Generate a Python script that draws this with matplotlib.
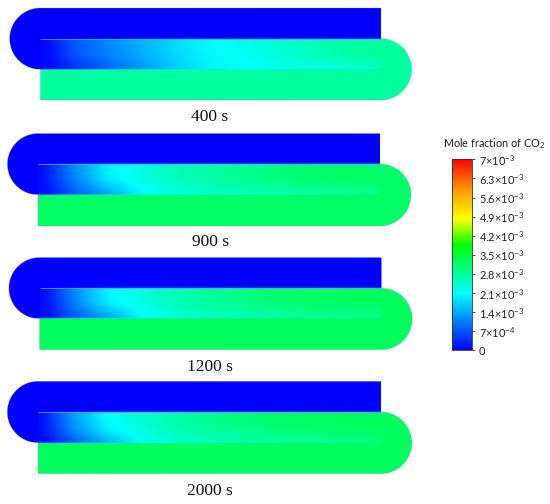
import numpy as np
import matplotlib
matplotlib.use("Agg")
import matplotlib.pyplot as plt
from matplotlib.colors import LinearSegmentedColormap, Normalize
from matplotlib.cm import ScalarMappable
from matplotlib.path import Path
from matplotlib.patches import PathPatch

plt.rcParams["mathtext.fontset"] = "custom"
plt.rcParams["mathtext.rm"] = "Lato"
plt.rcParams["mathtext.default"] = "rm"

# ---- data (mole fraction of CO2, in units of 1e-3) ----
times = ["400 s", "900 s", "1200 s", "2000 s"]
channel_pos = [0, .03, .1, .2, .3, .4, .5, .6, .7, .8, .9, 1]

mid_top_400 = [.05, .2, .75, 1.15, 1.5, 1.85, 2.1, 2.2, 2.4, 2.6, 2.75, 2.75]
mid_ctr_400 = [.05, .15, .7, 1.1, 1.45, 1.8, 2.05, 2.2, 2.35, 2.55, 2.75, 2.8]
mid_bot_400 = [.05, .1, .4, .8, 1.25, 1.7, 2.0, 2.1, 2.2, 2.25, 2.35, 2.5]

mid_top_900 = [.05, .3, 1.1, 2.0, 2.35, 2.6, 2.75, 2.9, 3.0, 3.1, 3.15, 3.15]
mid_ctr_900 = [.05, .25, 1.0, 1.9, 2.25, 2.55, 2.7, 2.85, 3.0, 3.1, 3.15, 3.15]
mid_bot_900 = [.05, .15, .7, 1.3, 2.0, 2.3, 2.45, 2.55, 2.6, 2.7, 2.8, 2.9]

mid_top_1200 = [.05, .3, 1.15, 2.05, 2.4, 2.65, 2.85, 3.0, 3.1, 3.15, 3.2, 3.2]
mid_ctr_1200 = [.05, .25, 1.05, 1.95, 2.3, 2.6, 2.75, 2.9, 3.05, 3.15, 3.2, 3.2]
mid_bot_1200 = [.05, .15, .7, 1.35, 2.05, 2.35, 2.5, 2.6, 2.7, 2.8, 2.85, 2.95]

mid_top_2000 = [.05, .35, 1.3, 2.15, 2.45, 2.7, 2.9, 3.05, 3.15, 3.2, 3.2, 3.2]
mid_ctr_2000 = [.05, .3, 1.15, 2.0, 2.35, 2.65, 2.8, 2.95, 3.1, 3.15, 3.2, 3.2]
mid_bot_2000 = [.05, .15, .75, 1.45, 2.1, 2.4, 2.55, 2.65, 2.75, 2.85, 2.9, 3.0]

outlet_value = [2.75, 3.15, 3.2, 3.2]
inlet_value = [0, 0, 0, 0]

cbar_ticks = [0, 0.7, 1.4, 2.1, 2.8, 3.5, 4.2, 4.9, 5.6, 6.3, 7]
cbar_labels = ["0", r"$7{\times}10^{-4}$", r"$1.4{\times}10^{-3}$", r"$2.1{\times}10^{-3}$",
               r"$2.8{\times}10^{-3}$", r"$3.5{\times}10^{-3}$", r"$4.2{\times}10^{-3}$",
               r"$4.9{\times}10^{-3}$", r"$5.6{\times}10^{-3}$", r"$6.3{\times}10^{-3}$",
               r"$7{\times}10^{-3}$"]

# ---- layout (figure pixels) ----
W, H = 550, 504
# x0, x1, top, mid1, mid2, bottom, caption y
layouts = [
    (40.3, 381, 8, 38.7, 69.3, 100, 117),
    (38, 380, 133.5, 164, 194.7, 226, 242),
    (39.5, 381.5, 257.5, 288.3, 318.7, 349.7, 367),
    (38, 381, 381.3, 412, 442.7, 473.7, 491),
]
mids = [
    (mid_top_400, mid_ctr_400, mid_bot_400),
    (mid_top_900, mid_ctr_900, mid_bot_900),
    (mid_top_1200, mid_ctr_1200, mid_bot_1200),
    (mid_top_2000, mid_ctr_2000, mid_bot_2000),
]

cmap = LinearSegmentedColormap.from_list(
    "co2", [(0, "#0000ff"), (.3, "#00ffff"), (.55, "#00ff00"),
            (.69, "#ffff00"), (.85, "#ff9000"), (1, "#ff0000")], N=512)
norm = Normalize(0, 7)

fig = plt.figure(figsize=(W / 100, H / 100), dpi=100, facecolor="white")
ax = fig.add_axes([0, 0, 1, 1])


def outline(x0, x1, top, mid1, mid2, bottom):
    r = (mid2 - top) / 2
    rr = (bottom - mid1) / 2
    a = np.linspace(np.pi / 2, 3 * np.pi / 2, 90)
    left = np.c_[x0 + r * np.cos(a), (top + r) - r * np.sin(a)]
    b = np.linspace(-np.pi / 2, np.pi / 2, 90)
    right = np.c_[x1 + rr * np.cos(b), (mid1 + rr) - rr * np.sin(b)]
    return np.vstack([[[x1, top]], left, [[x0, mid2], [x0, bottom]], right, [[x1, top]]]), r, rr


for t, lay, (m_top, m_ctr, m_bot), out, inl in zip(times, layouts, mids, outlet_value, inlet_value):
    x0, x1, top, mid1, mid2, bottom, cap = lay
    pts, r, rr = outline(x0, x1, top, mid1, mid2, bottom)
    st = x0 + np.asarray(channel_pos) * (x1 - x0)
    xs = np.r_[x0 - r - 3, x0 - .2, st, x1 + .2, x1 + rr + 3]
    ys = np.array([top - 2, mid1 - .3, mid1 + .3, (mid1 + mid2) / 2, mid2 - .3, mid2 + .3, bottom + 2])

    def row(v):
        return np.r_[inl, inl, v, out, out]

    Z = np.vstack([
        np.full(len(xs), float(inl)),
        np.full(len(xs), float(inl)),
        row(m_top), row(m_ctr), row(m_bot),
        np.full(len(xs), float(out)),
        np.full(len(xs), float(out)),
    ])
    # shade the field on the pixel raster between the read stations
    fx = np.arange(xs[0], xs[-1], .5)
    fy = np.arange(ys[0], ys[-1], .25)
    along = np.array([np.interp(fx, xs, rw) for rw in Z])
    field = np.array([np.interp(fy, ys, col) for col in along.T]).T
    ax.imshow(field, extent=[fx[0], fx[-1], fy[-1], fy[0]], aspect="auto", cmap=cmap, norm=norm,
              interpolation="bilinear", origin="upper", zorder=1)

    # white surround with a hole in the shape of the channel, so the edge stays smooth
    xa, xb, ya, yb = xs[0] - 4, xs[-1] + 4, ys[0] - 1.5, ys[-1] + 1.5
    frame = np.array([[xa, ya], [xb, ya], [xb, yb], [xa, yb], [xa, ya]])
    verts = np.vstack([frame, pts])
    codes = [Path.MOVETO] + [Path.LINETO] * 3 + [Path.CLOSEPOLY] + [Path.MOVETO] + [Path.LINETO] * (len(pts) - 2) + [Path.CLOSEPOLY]
    ax.add_patch(PathPatch(Path(verts, codes), facecolor="white", edgecolor="none", lw=0, zorder=2))
    ax.add_patch(PathPatch(Path(pts), facecolor="none", edgecolor=(.45, .6, 1, .35), lw=.5, zorder=3))
    ax.plot([x0, x1], [mid1, mid1], color="#6f9cff", lw=.7, alpha=.8, solid_capstyle="butt", zorder=3)
    ax.plot([x0, x1], [mid2, mid2], color="#30c8e0", lw=.5, alpha=.45, solid_capstyle="butt", zorder=3)
    ax.text(210, cap, t, ha="center", va="center", fontsize=12.5,
            family=["Liberation Serif", "DejaVu Serif"], color="#111111", zorder=4)

ax.set_xlim(0, W)
ax.set_ylim(H, 0)
ax.axis("off")

# colour bar
cax = fig.add_axes([451.7 / W, 1 - 350.3 / H, 20 / W, 191 / H])
cb = fig.colorbar(ScalarMappable(norm=norm, cmap=cmap), cax=cax)
cb.set_ticks(cbar_ticks)
cb.set_ticklabels(cbar_labels)
cb.ax.tick_params(length=2, width=.6, pad=3, labelsize=7.9, color="#333333", labelcolor="#222222")
for lab in cb.ax.get_yticklabels():
    lab.set_family(["Lato", "DejaVu Sans"])
cb.outline.set_linewidth(.6)
cb.outline.set_edgecolor("#333333")

ax.text(494, 143.5, r"Mole fraction of CO$_2$", ha="center", va="center", fontsize=7.8,
        family=["Lato", "DejaVu Sans"], color="#222222", zorder=4)

fig.savefig("out.png", dpi=100, facecolor="white")
